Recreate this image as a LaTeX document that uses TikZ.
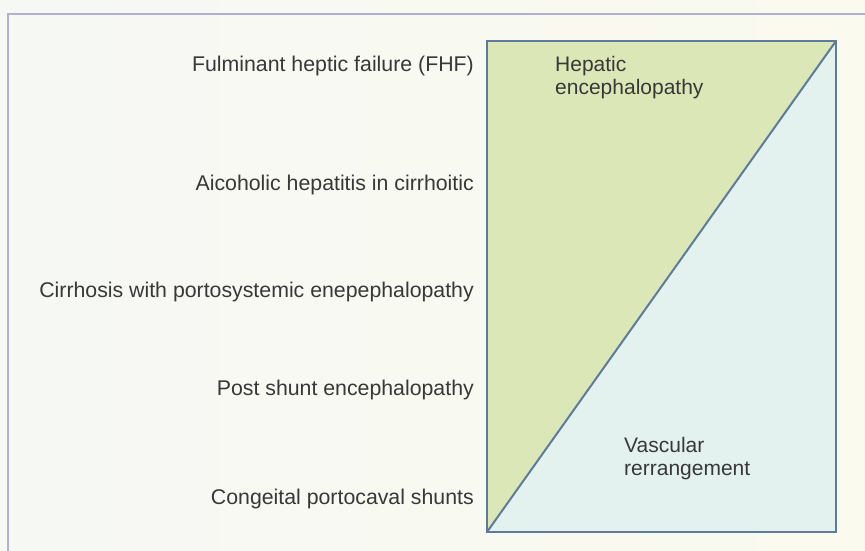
\documentclass[tikz,border=0pt]{standalone}
\usepackage{fontspec}
\setmainfont{Liberation Sans}
\begin{document}
\begin{tikzpicture}[x=1pt,y=-1pt,
  label/.style={anchor=base east,text=txt,font=\fontsize{21.3}{23}\selectfont,inner sep=0pt},
  region/.style={anchor=base west,text=txt,align=left,font=\fontsize{21}{23}\selectfont,inner sep=0pt},
  edge/.style={draw=rim,line width=2.2pt,line join=miter}]
\definecolor{paper}{HTML}{F6F8F4}
\definecolor{paperwarm}{HTML}{FAFAEE}
\definecolor{frame}{HTML}{B2B0D6}
\definecolor{rim}{HTML}{5E7B9B}
\definecolor{hepatic}{HTML}{DCE7B7}
\definecolor{vascular}{HTML}{E4F2EF}
\definecolor{txt}{HTML}{383838}

% page and outer frame
\shade[left color=paper,right color=paperwarm] (0,0) rectangle (865,551);
\useasboundingbox (0,0) rectangle (865,551);
\draw[frame,line width=2pt] (8,551) -- (8,14) -- (865,14);

% the two regions of the spectrum box
\coordinate (tl) at (487,41);
\coordinate (tr) at (836,41);
\coordinate (br) at (836,532);
\coordinate (bl) at (487,532);
\fill[hepatic] (bl) -- (tl) -- (tr) -- cycle;
\fill[vascular] (bl) -- (tr) -- (br) -- cycle;
\draw[edge] (tl) rectangle (br);
\draw[rim,line width=2pt] (bl) -- (tr);

% region labels
\node[region] (he) at (555,95) {Hepatic\\encephalopathy};
\node[region] (vr) at (624,475) {Vascular\\rerrangement};

% clinical conditions, top to bottom
\node[label] (fhf) at (474,72) {Fulminant heptic failure (FHF)};
\node[label] (ahc) at (474,190) {Aicoholic hepatitis in cirrhoitic};
\node[label] (cpe) at (474,297) {Cirrhosis with portosystemic enepephalopathy};
\node[label] (pse) at (474,395) {Post shunt encephalopathy};
\node[label] (cps) at (474,504) {Congeital portocaval shunts};
\end{tikzpicture}
\end{document}
